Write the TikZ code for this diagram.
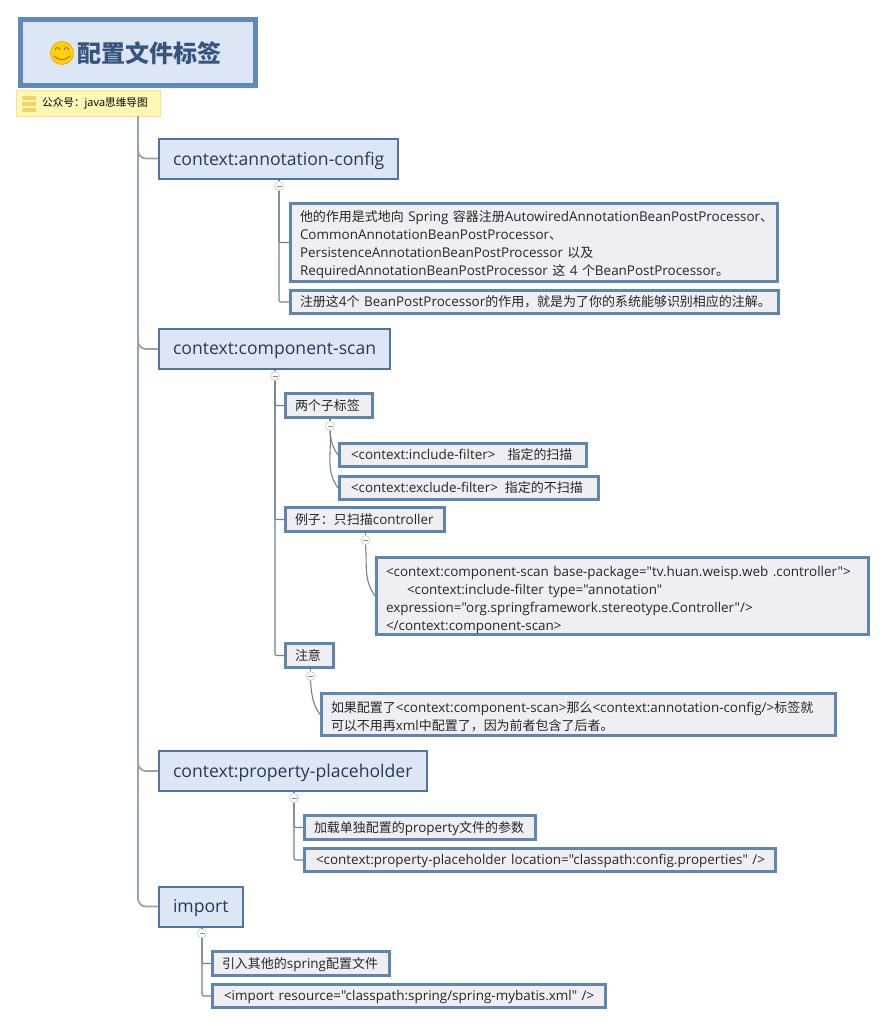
\documentclass[tikz,border=0pt]{standalone}
\usepackage{fontspec}
\setmainfont{Open Sans}[Ligatures=TeXOff]
\newfontfamily\cjkfont{Noto Sans CJK SC}[Scale=0.965]
\newcommand{\cjk}[1]{{\cjkfont #1}}
\newcommand{\lift}[1]{\rule{0pt}{#1}}
\definecolor{titleblue}{HTML}{5F88BE}
\definecolor{titlefill}{HTML}{DCE6F4}
\definecolor{titleink}{HTML}{35557F}
\definecolor{subline}{HTML}{5F86AE}
\definecolor{subfill}{HTML}{EFEFF3}
\definecolor{linkgrey}{HTML}{6F8294}
\definecolor{spinegrey}{HTML}{97A3AE}
\definecolor{notefill}{HTML}{FFF8B4}
\definecolor{noteicon}{HTML}{F2D56A}
\tikzset{
  titlebox/.style={draw=titleblue,fill=titlefill,line width=5pt,anchor=center,minimum width=235pt,minimum height=66pt,inner sep=0pt},
  notebox/.style={fill=notefill,draw=notefill!80!orange,line width=.4pt,anchor=west,minimum height=26pt,inner sep=0pt,text width=144pt},
  topicbox/.style={draw=titleblue!85!black,fill=titlefill,line width=2pt,anchor=west,minimum height=40pt,inner xsep=14pt,inner ysep=0pt,align=left,text depth=0pt,text=titleink!70!black,font=\fontsize{17.6}{22}\selectfont},
  subbox/.style={draw=subline,fill=subfill,line width=3pt,anchor=west,inner xsep=9.5pt,inner ysep=0pt,align=left,text=black!85,font=\fontsize{13.45}{18}\selectfont},
  oneline/.style={subbox,text depth=1.5pt},
  link/.style={draw=linkgrey,line width=1.1pt},
  spine/.style={draw=spinegrey,line width=1.8pt},
  toggle/.style={circle,draw=black!25,fill=white,line width=.5pt,minimum size=9pt,inner sep=0pt,
    path picture={\draw[black!45,line width=.7pt] (path picture bounding box.west) ++(2pt,0) -- ++(5pt,0);}}
}
\begin{document}
\begin{tikzpicture}[x=1pt,y=-1pt]
  \useasboundingbox (0,0) rectangle (887,1026);
  % root and its note
  \node[titlebox] (root) at (138,52.5) {};
  \node[font=\fontsize{24.9}{28}\bfseries\selectfont\cjkfont,text=titleink,anchor=west,inner sep=0pt] (roottext) at (77,53) {配置文件标签};
  \node[circle,draw=orange!80!yellow,fill=yellow!70!orange,line width=.6pt,minimum size=23pt,inner sep=0pt] (smile) at (62,53) {};
  \draw[orange!70!black,line width=.8pt] (55,50) arc[start angle=180,end angle=0,radius=2.4pt];
  \draw[orange!70!black,line width=.8pt] (64,50) arc[start angle=180,end angle=0,radius=2.4pt];
  \draw[orange!70!black,line width=.9pt] (54,56) to[bend right=50] (70,56);
  \node[notebox,font=\fontsize{11}{12}\selectfont] (note) at (16,103) {\hspace{26pt}\cjk{公众号：}java\cjk{思维导图}};
  \foreach \y in {96,102,108}
    \fill[noteicon] (22,\y) rectangle (36,\y+4);
  \coordinate (trunk) at (138,116);

  % first level
  \node[topicbox,text width=211pt] (annot) at (158,158.5) {\mbox{context:annotation-config}};
  \node[topicbox,text width=203pt] (scan) at (158,349) {\mbox{context:component-scan}};
  \node[topicbox,text width=240pt] (holder) at (158,771) {\mbox{context:property-placeholder}};
  \node[topicbox,text width=56pt] (import) at (158,906.5) {import};

  % second level
  \node[subbox,text width=468pt,minimum height=78pt] (annotwhat) at (289,242.5) {\lift{16pt}\cjk{他的作用是式地向} Spring \cjk{容器注册}AutowiredAnnotationBeanPostProcessor\cjk{、}\\CommonAnnotationBeanPostProcessor\cjk{、}\\PersistenceAnnotationBeanPostProcessor \cjk{以及}\\RequiredAnnotationBeanPostProcessor \cjk{这} 4 \cjk{个}BeanPostProcessor\cjk{。}};
  \node[oneline,text width=469pt,minimum height=23pt] (annotwhy) at (289,302) {\cjk{注册这}4\cjk{个} BeanPostProcessor\cjk{的作用，就是为了你的系统能够识别相应的注解。}};
  \node[oneline,text width=68pt,minimum height=24pt] (twotags) at (284,405.5) {\cjk{两个子标签}};
  \node[oneline,text width=228pt,minimum height=23pt] (incl) at (338,455) {\hspace{2pt}<context:include-filter>\hspace{12pt}\cjk{指定的扫描}};
  \node[oneline,text width=240pt,minimum height=23pt] (excl) at (338,488) {\hspace{2pt}<context:exclude-filter>\hspace{7pt}\cjk{指定的不扫描}};
  \node[oneline,text width=140pt,minimum height=24pt] (sample) at (284,519.5) {\cjk{例子：只扫描}controller};
  \node[subbox,text width=473pt,minimum height=77pt] (samplecode) at (375,596) {\lift{19pt}<context:component-scan base-package="tv.huan.weisp.web .controller">\\\hspace{21pt}<context:include-filter type="annotation"\\expression="org.springframework.stereotype.Controller"/>\\</context:component-scan>};
  \node[oneline,text width=29pt,minimum height=24pt] (remark) at (284,655.5) {\cjk{注意}};
  \node[subbox,text width=495pt,minimum height=42pt] (remarktext) at (320,714.5) {\lift{16pt}\cjk{如果配置了}<context:component-scan>\cjk{那么}<context:annotation-config/>\cjk{标签就}\\\cjk{可以不用再}xml\cjk{中配置了，因为前者包含了后者。}};
  \node[oneline,text width=212pt,minimum height=24pt] (holderuse) at (303,827.5) {\cjk{加载单独配置的}property\cjk{文件的参数}};
  \node[oneline,text width=452pt,minimum height=23pt] (holdercode) at (303,860) {\hspace{2pt}<context:property-placeholder location="classpath:config.properties" />};
  \node[oneline,text width=158pt,minimum height=24pt] (importuse) at (211,963.5) {\cjk{引入其他的}spring\cjk{配置文件}};
  \node[oneline,text width=374pt,minimum height=23pt] (importcode) at (211,996) {\hspace{2pt}<import resource="classpath:spring/spring-mybatis.xml" />};

  % collapse toggles
  \node[toggle] (annottog) at (279,186) {};
  \node[toggle] (scantog) at (275,376) {};
  \node[toggle] (twotog) at (330,426) {};
  \node[toggle] (sampletog) at (365.5,540) {};
  \node[toggle] (remarktog) at (310.5,676) {};
  \node[toggle] (holdertog) at (294,798) {};
  \node[toggle] (importtog) at (202,933) {};

  % connectors
  \foreach \child in {annot,scan,holder,import}
    \draw[spine,rounded corners=8pt] (trunk) |- (\child.west);
  \foreach \parent/\tog in {annot/annottog,scan/scantog,twotags/twotog,sample/sampletog,remark/remarktog,holder/holdertog,import/importtog}
    \draw[link] (\parent.south -| \tog) -- (\tog);
  \foreach \tog/\child in {annottog/annotwhat,annottog/annotwhy,scantog/twotags,scantog/sample,scantog/remark,holdertog/holderuse,holdertog/holdercode,importtog/importuse,importtog/importcode}
    \draw[link,rounded corners=2pt] (\tog) |- (\child.west);
  \foreach \tog/\child in {twotog/incl,twotog/excl,sampletog/samplecode,remarktog/remarktext}
    \draw[link] (\tog.south) to[out=-85,in=125] (\child.west);
\end{tikzpicture}
\end{document}
